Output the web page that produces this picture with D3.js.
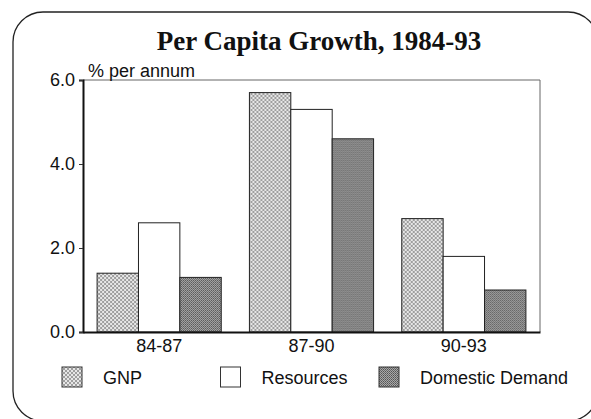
<!DOCTYPE html>
<html>
<head>
<meta charset="utf-8">
<script src="https://cdn.jsdelivr.net/npm/d3@7"></script>
<style>
  body { margin: 0; background: #fff; }
  svg { display: block; }
</style>
</head>
<body>
<div id="chart"></div>
<script>
// values (% per annum)
const periods = ['84-87', '87-90', '90-93'];
const seriesNames = ['GNP', 'Resources', 'Domestic Demand'];
const gnp = [1.4, 5.7, 2.7];
const resources = [2.6, 5.3, 1.8];
const domesticDemand = [1.3, 4.6, 1.0];
const yTicks = [0, 2, 4, 6];

const W = 591, H = 419;
const margin = { top: 80, right: 51, bottom: 87, left: 83 },
      width = W - margin.left - margin.right,
      height = H - margin.top - margin.bottom;

const svg = d3.select('#chart').append('svg')
  .attr('width', W)
  .attr('height', H);

// fills: crosshatch for GNP, plain white, dark dither for domestic demand
const defs = svg.append('defs');
const hatch = defs.append('pattern')
  .attr('id', 'hatch')
  .attr('patternUnits', 'userSpaceOnUse')
  .attr('width', 4).attr('height', 4);
hatch.append('rect').attr('width', 4).attr('height', 4).attr('fill', '#e6e6e6');
hatch.append('path').attr('d', 'M0,0 L4,4 M4,0 L0,4')
  .attr('stroke', '#8c8c8c').attr('stroke-width', 0.8);

const dither = defs.append('pattern')
  .attr('id', 'dither')
  .attr('patternUnits', 'userSpaceOnUse')
  .attr('width', 2).attr('height', 2);
dither.append('rect').attr('width', 2).attr('height', 2).attr('fill', '#a8a8a8');
dither.append('rect').attr('width', 1).attr('height', 1).attr('fill', '#555');
dither.append('rect').attr('x', 1).attr('y', 1).attr('width', 1).attr('height', 1).attr('fill', '#6a6a6a');

const fills = ['url(#hatch)', '#fff', 'url(#dither)'];

// rounded outer frame (runs off the right and bottom edges)
svg.append('rect')
  .attr('x', 13).attr('y', 12)
  .attr('width', 585).attr('height', 409)
  .attr('rx', 30).attr('ry', 30)
  .attr('fill', 'none')
  .attr('stroke', '#222')
  .attr('stroke-width', 1.3);

svg.append('text')
  .attr('x', 319).attr('y', 50)
  .attr('text-anchor', 'middle')
  .attr('font-family', '"Liberation Serif", "Times New Roman", serif')
  .attr('font-weight', 'bold')
  .attr('font-size', 27)
  .attr('fill', '#111')
  .text('Per Capita Growth, 1984-93');

const g = svg.append('g')
  .attr('transform', 'translate(' + margin.left + ',' + margin.top + ')');

const x0 = d3.scaleBand()
  .domain(periods)
  .range([0, width])
  .paddingInner(0.185)
  .paddingOuter(0.0925);

const x1 = d3.scaleBand()
  .domain(seriesNames)
  .range([0, x0.bandwidth()]);

const y = d3.scaleLinear()
  .domain([0, 6])
  .range([height, 0]);

// light frame on top and right
g.append('path')
  .attr('d', 'M0,0 H' + width + ' V' + height)
  .attr('fill', 'none')
  .attr('stroke', '#666')
  .attr('stroke-width', 1);

const rows = periods.map((p, i) => ({
  period: p,
  values: [gnp[i], resources[i], domesticDemand[i]]
}));

g.selectAll('.group')
  .data(rows)
  .join('g')
    .attr('class', 'group')
    .attr('transform', (d) => 'translate(' + x0(d.period) + ',0)')
  .selectAll('rect')
  .data((d) => d.values.map((v, j) => ({ key: seriesNames[j], value: v, j: j })))
  .join('rect')
    .attr('x', (d) => x1(d.key))
    .attr('y', (d) => y(d.value))
    .attr('width', x1.bandwidth())
    .attr('height', (d) => height - y(d.value))
    .attr('fill', (d) => fills[d.j])
    .attr('stroke', '#222')
    .attr('stroke-width', 1);

// y axis
const yAxis = g.append('g')
  .call(d3.axisLeft(y).tickValues(yTicks).tickFormat(d3.format('.1f')).tickSize(4).tickPadding(4));
yAxis.select('.domain').attr('stroke', '#111').attr('stroke-width', 2);
yAxis.selectAll('.tick line').attr('stroke', '#333');
yAxis.selectAll('text')
  .attr('font-family', '"Liberation Sans", Arial, sans-serif')
  .attr('font-size', 18)
  .attr('fill', '#111');

// x axis
const xAxis = g.append('g')
  .attr('transform', 'translate(0,' + height + ')')
  .call(d3.axisBottom(x0).tickSize(0).tickPadding(7));
xAxis.select('.domain').attr('stroke', '#111').attr('stroke-width', 2);
xAxis.selectAll('text')
  .attr('font-family', '"Liberation Sans", Arial, sans-serif')
  .attr('font-size', 18)
  .attr('fill', '#111');

g.append('text')
  .attr('x', 5).attr('y', -3)
  .attr('font-family', '"Liberation Sans", Arial, sans-serif')
  .attr('font-size', 18)
  .attr('fill', '#111')
  .text('% per annum');

// legend
const legend = svg.append('g')
  .attr('transform', 'translate(62,367)');
const item = legend.selectAll('g')
  .data(seriesNames)
  .join('g')
    .attr('transform', (d, i) => 'translate(' + (i * 158.5) + ',0)');
item.append('rect')
  .attr('width', 20).attr('height', 20)
  .attr('fill', (d, i) => fills[i])
  .attr('stroke', '#333')
  .attr('stroke-width', 1);
item.append('text')
  .attr('x', 41).attr('y', 17)
  .attr('font-family', '"Liberation Sans", Arial, sans-serif')
  .attr('font-size', 18)
  .attr('fill', '#111')
  .text((d) => d);
</script>
</body>
</html>
